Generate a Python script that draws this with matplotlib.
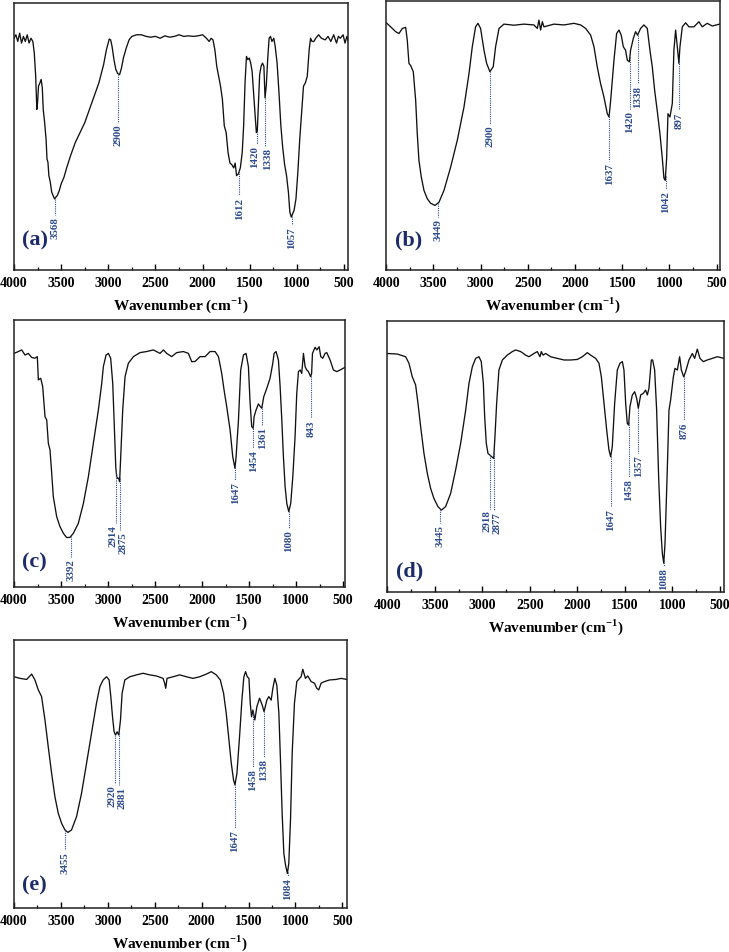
import numpy as np
import matplotlib
matplotlib.use("Agg")
import matplotlib.pyplot as plt
from matplotlib.ticker import MultipleLocator

plt.rcParams['font.family'] = ['Liberation Serif', 'DejaVu Serif']
plt.rcParams['mathtext.fontset'] = 'custom'
plt.rcParams['mathtext.rm'] = 'Liberation Serif'
plt.rcParams['mathtext.bf'] = 'Liberation Serif:bold'

# ---------------- data (relative transmittance, % of panel height) ----------------
wn_a = [4000, 3980, 3960, 3940, 3920, 3900, 3880, 3860, 3840, 3820, 3800, 3785, 3770, 3758, 3750,
        3740, 3725, 3712, 3700, 3690, 3675, 3660, 3650, 3640, 3630, 3615, 3600, 3585, 3570, 3555,
        3540, 3520, 3500, 3470, 3440, 3400, 3350, 3300, 3250, 3200, 3150, 3100, 3050, 3020, 2990,
        2975, 2960, 2940, 2920, 2900, 2880, 2860, 2840, 2810, 2780, 2750, 2700, 2650, 2600, 2550,
        2500, 2450, 2400, 2350, 2300, 2250, 2200, 2150, 2100, 2050, 2000, 1960, 1930, 1910, 1890,
        1870, 1850, 1830, 1810, 1790, 1770, 1750, 1730, 1710, 1690, 1670, 1655, 1640, 1620, 1600,
        1580, 1565, 1550, 1535, 1520, 1505, 1490, 1475, 1460, 1445, 1430, 1420, 1410, 1395, 1380,
        1365, 1350, 1338, 1325, 1310, 1295, 1280, 1265, 1245, 1230, 1210, 1190, 1170, 1150, 1130,
        1110, 1090, 1075, 1060, 1045, 1030, 1010, 990, 970, 950, 930, 910, 890, 870, 855,
        840, 820, 800, 770, 740, 700, 670, 640, 610, 580, 560, 540, 510, 490, 470, 455]
tr_a = [86.7, 88.0, 85.5, 88.6, 84.9, 87.4, 85.5, 88.0, 84.9, 86.7, 85.5, 81.2, 72.5, 60.1, 62.6,
        68.8, 70.0, 71.3, 68.2, 60.1, 55.1, 48.9, 41.5, 40.3, 35.3, 32.8, 29.1, 27.9, 26.6, 27.3,
        27.9, 29.7, 32.2, 34.7, 38.4, 42.8, 47.7, 51.4, 55.1, 60.1, 65.1, 70.0, 76.8, 82.4, 86.4,
        86.1, 83.6, 78.7, 75.0, 73.5, 73.1, 75.6, 79.3, 83.0, 86.1, 87.4, 88.0, 88.0, 87.4, 87.1,
        87.4, 86.7, 87.6, 87.1, 87.4, 88.0, 87.4, 87.6, 87.4, 87.6, 88.0, 86.7, 85.5, 86.7, 86.1,
        82.4, 76.2, 72.5, 68.8, 63.8, 53.9, 51.4, 43.9, 40.0, 39.4, 38.2, 40.0, 35.3, 36.0, 38.2,
        43.9, 53.9, 70.0, 79.9, 78.7, 79.3, 77.4, 74.3, 66.3, 58.9, 51.4, 52.0, 60.1, 73.1, 76.2,
        77.4, 76.2, 64.4, 68.8, 78.7, 86.7, 87.4, 85.5, 86.7, 83.6, 77.4, 66.3, 53.9, 45.6, 39.4,
        35.3, 29.1, 21.7, 19.8, 21.1, 22.3, 26.6, 36.6, 48.9, 58.9, 68.8, 70.0, 72.5, 82.4, 86.7,
        85.5, 85.5, 86.7, 88.0, 86.7, 86.1, 87.4, 85.5, 88.0, 84.9, 87.4, 86.7, 88.0, 84.9, 87.4, 85.5]
peaks_a = [3568, 2900, 1612, 1420, 1338, 1057]

wn_b = [4000, 3954, 3901, 3866, 3830, 3795, 3778, 3760, 3742, 3714, 3689, 3672, 3654, 3629, 3601,
        3566, 3530, 3484, 3442, 3389, 3318, 3248, 3177, 3124, 3089, 3054, 3029, 3001, 2965, 2937,
        2902, 2867, 2842, 2806, 2754, 2648, 2542, 2436, 2400, 2383, 2365, 2347, 2330, 2224, 2118,
        2012, 1941, 1888, 1835, 1800, 1765, 1730, 1694, 1659, 1640, 1623, 1588, 1560, 1535, 1511,
        1489, 1465, 1447, 1425, 1412, 1383, 1359, 1338, 1306, 1271, 1235, 1207, 1182, 1157, 1129,
        1101, 1076, 1059, 1045, 1030, 1016, 995, 970, 953, 935, 917, 900, 889, 864, 829,
        794, 741, 688, 653, 600, 547, 470]
tr_b = [91.9, 90.4, 88.6, 87.9, 89.8, 90.2, 85.5, 76.8, 76.0, 73.7, 63.1, 50.7, 40.7, 34.5, 29.6,
        26.5, 24.8, 24.0, 25.2, 29.6, 38.3, 48.2, 60.6, 73.0, 83.0, 90.4, 91.7, 89.8, 81.7, 76.8,
        73.7, 75.6, 83.0, 89.8, 91.4, 91.0, 91.4, 91.1, 89.8, 92.9, 89.2, 92.3, 90.4, 91.4, 91.1,
        91.7, 91.1, 89.8, 87.3, 83.0, 75.5, 69.3, 64.3, 58.1, 56.9, 63.1, 78.0, 87.9, 89.2, 87.3,
        83.0, 81.7, 78.0, 77.4, 81.7, 86.1, 88.6, 87.3, 89.8, 91.1, 89.8, 81.7, 75.5, 66.8, 59.0,
        50.7, 41.6, 34.2, 33.3, 41.6, 58.1, 56.9, 61.9, 81.7, 89.2, 83.0, 76.8, 83.0, 90.4, 91.9,
        90.4, 90.4, 92.3, 90.4, 91.7, 90.7, 91.4]
peaks_b = [3449, 2900, 1637, 1420, 1338, 1042, 897]

wn_c = [4000, 3954, 3918, 3883, 3848, 3812, 3777, 3752, 3741, 3716, 3695, 3670, 3652, 3635, 3617,
        3599, 3582, 3546, 3511, 3475, 3440, 3404, 3369, 3316, 3262, 3209, 3156, 3103, 3067, 3050,
        3021, 2996, 2972, 2950, 2933, 2918, 2908, 2897, 2887, 2877, 2865, 2844, 2819, 2784, 2730,
        2660, 2589, 2518, 2447, 2411, 2376, 2323, 2270, 2199, 2145, 2110, 2074, 2021, 1968, 1915,
        1862, 1826, 1791, 1766, 1738, 1702, 1674, 1650, 1638, 1613, 1589, 1560, 1532, 1507, 1489,
        1472, 1456, 1447, 1426, 1401, 1380, 1365, 1344, 1312, 1277, 1248, 1234, 1213, 1188, 1170,
        1152, 1135, 1117, 1099, 1078, 1057, 1035, 1011, 993, 975, 957, 940, 922, 904, 887,
        869, 846, 835, 826, 798, 780, 755, 738, 716, 692, 674, 638, 603, 567, 532, 480]
tr_c = [87.5, 88.2, 88.8, 86.9, 87.5, 86.0, 85.7, 86.3, 77.6, 78.2, 75.1, 63.8, 62.6, 53.9, 51.4,
        42.6, 33.9, 26.4, 22.7, 20.2, 18.6, 18.7, 20.2, 23.9, 31.4, 41.4, 53.9, 66.3, 76.3, 82.5,
        86.9, 87.5, 85.7, 76.3, 60.1, 45.1, 41.4, 40.8, 40.8, 39.5, 48.9, 66.3, 78.8, 83.8, 86.3,
        87.8, 88.2, 88.8, 87.5, 88.8, 87.5, 86.3, 87.8, 88.2, 87.5, 84.4, 84.5, 86.3, 86.3, 88.2,
        88.2, 86.3, 80.0, 73.8, 67.6, 58.9, 48.9, 44.5, 48.9, 62.6, 81.3, 86.9, 87.5, 82.5, 68.8,
        60.1, 59.5, 63.8, 66.3, 68.6, 67.6, 67.0, 71.3, 74.4, 78.2, 83.8, 87.5, 88.2, 85.0, 75.1,
        62.6, 48.9, 37.7, 31.4, 28.3, 31.4, 41.4, 56.4, 72.6, 80.7, 81.3, 80.0, 87.5, 82.5, 81.3,
        80.7, 78.8, 80.0, 87.5, 89.8, 88.8, 90.0, 86.3, 85.7, 87.5, 87.8, 85.0, 81.3, 80.7, 81.3, 82.3]
peaks_c = [3392, 2914, 2875, 1647, 1454, 1361, 1080, 843]

wn_d = [4000, 3895, 3807, 3772, 3737, 3702, 3677, 3649, 3614, 3579, 3544, 3509, 3467, 3430, 3386,
        3333, 3281, 3228, 3175, 3140, 3105, 3070, 3035, 3011, 2989, 2975, 2958, 2940, 2919, 2902,
        2880, 2867, 2849, 2825, 2789, 2737, 2684, 2649, 2596, 2544, 2509, 2456, 2421, 2393, 2379,
        2361, 2333, 2281, 2211, 2140, 2070, 2000, 1947, 1895, 1860, 1807, 1772, 1747, 1719, 1691,
        1667, 1649, 1632, 1607, 1579, 1551, 1526, 1509, 1491, 1474, 1460, 1446, 1421, 1396, 1375,
        1358, 1333, 1305, 1281, 1263, 1246, 1221, 1207, 1186, 1165, 1144, 1123, 1105, 1090, 1077,
        1053, 1035, 1018, 989, 972, 947, 923, 905, 880, 860, 825, 789, 765, 737, 709,
        674, 632, 579, 526, 456]
tr_d = [87.9, 87.7, 86.7, 84.3, 79.3, 76.3, 69.5, 60.9, 51.0, 43.7, 38.1, 34.4, 31.4, 30.1, 31.4,
        36.3, 44.9, 54.7, 67.0, 76.9, 83.0, 86.1, 86.7, 84.9, 76.9, 64.6, 54.7, 51.0, 50.4, 49.8,
        49.2, 57.2, 69.5, 81.8, 85.5, 87.3, 88.6, 89.2, 88.6, 87.3, 86.7, 87.9, 88.6, 86.7, 88.6,
        87.3, 87.9, 86.7, 86.1, 85.5, 85.5, 85.7, 86.7, 88.2, 87.3, 86.1, 84.3, 79.3, 69.5, 59.7,
        52.3, 49.8, 53.5, 69.5, 81.8, 84.3, 84.9, 81.8, 69.5, 62.1, 61.5, 68.3, 72.6, 73.8, 71.3,
        67.7, 72.6, 73.2, 74.4, 72.6, 75.0, 85.5, 85.5, 81.8, 67.0, 42.4, 24.0, 14.1, 10.5, 17.8,
        44.9, 67.0, 70.7, 79.3, 82.4, 81.8, 86.7, 81.8, 79.3, 81.2, 85.5, 87.9, 86.1, 89.5, 86.1,
        84.9, 85.5, 86.1, 86.7, 86.1]
peaks_d = [3445, 2918, 2877, 1647, 1458, 1357, 1088, 876]

wn_e = [4000, 3936, 3865, 3812, 3777, 3741, 3706, 3670, 3635, 3599, 3564, 3528, 3493, 3457, 3425,
        3387, 3333, 3280, 3227, 3174, 3121, 3085, 3050, 3014, 2986, 2968, 2950, 2933, 2918, 2901,
        2883, 2865, 2848, 2819, 2766, 2695, 2624, 2553, 2482, 2411, 2394, 2383, 2369, 2305, 2234,
        2163, 2092, 2021, 1950, 1897, 1844, 1801, 1766, 1738, 1709, 1684, 1660, 1645, 1624, 1596,
        1571, 1550, 1532, 1514, 1496, 1482, 1468, 1454, 1433, 1411, 1383, 1355, 1335, 1305, 1284,
        1259, 1241, 1220, 1199, 1177, 1160, 1142, 1124, 1106, 1086, 1071, 1053, 1035, 1011, 986,
        957, 940, 922, 894, 869, 833, 798, 773, 752, 727, 691, 638, 567, 514, 454]
tr_e = [86.3, 85.7, 85.3, 87.3, 85.1, 81.4, 78.9, 70.2, 60.2, 50.3, 41.6, 35.4, 31.7, 29.2, 28.3,
        29.2, 34.2, 42.9, 54.0, 65.2, 76.4, 82.6, 85.1, 86.3, 85.1, 78.9, 71.4, 65.8, 64.6, 65.8,
        64.6, 70.2, 80.1, 85.1, 86.3, 87.0, 87.6, 87.0, 86.6, 85.7, 83.9, 82.0, 85.7, 86.3, 87.0,
        86.3, 85.7, 86.3, 87.3, 88.2, 87.0, 85.1, 80.1, 72.7, 62.7, 54.0, 47.8, 46.0, 50.3, 64.0,
        77.6, 86.3, 88.2, 86.3, 85.7, 76.4, 71.4, 73.9, 70.2, 75.2, 78.3, 75.8, 73.3, 77.6, 78.9,
        77.6, 82.0, 85.7, 83.2, 72.7, 55.3, 35.4, 20.5, 16.1, 13.0, 16.8, 32.9, 57.8, 76.4, 84.5,
        85.7, 86.3, 89.1, 85.7, 86.6, 84.5, 83.9, 82.0, 81.4, 83.9, 84.5, 85.1, 85.3, 85.7, 85.3]
peaks_e = [3455, 2920, 2881, 1647, 1458, 1338, 1084]

panel_names = ['(a)', '(b)', '(c)', '(d)', '(e)']

# ---------------- layout (not data) ----------------
W, H = 729, 952
# left, right, top, bottom in pixels
boxes = [(14, 348.3, 2.7, 270), (386.3, 719.5, 1.0, 270),
         (14, 345, 320, 587.3), (387.3, 724, 320.7, 591.7),
         (14, 346.7, 640, 908.3)]
xr = [455, 470, 480, 456, 454]
# dotted-line end levels and text x-offsets (points) for each annotation
ends = [[20.4, 55.1, 27.9, 47.1, 46.5, 16.7],
        [19.6, 54.4, 40.4, 60.0, 69.3, 30.2, 59.4],
        [11.5, 23.9, 21.4, 40.1, 52.0, 60.7, 22.1, 63.3],
        [25.2, 30.7, 30.1, 31.4, 42.4, 51.0, 9.6, 63.3],
        [21.7, 46.6, 46.0, 29.8, 52.8, 56.5, 12.0]]
dxs = [[0, 0, 0, -1.6, 1.6, 0], [0] * 7,
       [0, -2.2, 2.4, 0, 0, 0, 0, 0],
       [0, -2.4, 2.4, 0, 0, 0, 0, 0],
       [0, -2.4, 2.4, 0, 0, 0, 0]]
lab_y = [0.074, 0.074, 0.056, 0.037, 0.048]

navy_lab = '#1c2c6a'
navy_txt = '#2c4a8c'

wns = [wn_a, wn_b, wn_c, wn_d, wn_e]
trs = [tr_a, tr_b, tr_c, tr_d, tr_e]
pks = [peaks_a, peaks_b, peaks_c, peaks_d, peaks_e]

fig = plt.figure(figsize=(W / 100, H / 100), dpi=100)
for i in range(5):
    l, r, t, b = boxes[i]
    ax = fig.add_axes([l / W, 1 - b / H, (r - l) / W, (b - t) / H])
    x = np.array(wns[i], dtype=float)
    y = np.array(trs[i], dtype=float)
    ax.plot(x, y, color='#111111', lw=0.95)
    ax.set_xlim(4000, xr[i])
    ax.set_ylim(0, 100)
    ax.xaxis.set_major_locator(MultipleLocator(500))
    ax.xaxis.set_minor_locator(MultipleLocator(250))
    ax.tick_params(axis='x', which='both', direction='in', top=False, bottom=True,
                   labelsize=10, pad=5)
    ax.tick_params(axis='x', which='major', length=4.5, width=1.0)
    ax.tick_params(axis='x', which='minor', length=2.5, width=0.9)
    ax.set_yticks([])
    for lbl in ax.get_xticklabels():
        lbl.set_fontweight('bold')
    for s in ax.spines.values():
        s.set_linewidth(1.1)
        s.set_color('#222222')
    ax.set_xlabel(r'Wavenumber (cm$^{\mathbf{-1}}$)', fontsize=11, fontweight='bold',
                  labelpad=4)
    # peak annotations
    order = np.argsort(x)
    for p, e, dx in zip(pks[i], ends[i], dxs[i]):
        yc = np.interp(p, x[order], y[order])
        ax.plot([p, p], [yc, e], color=navy_txt, lw=0.8, ls=(0, (1, 1)))
        ax.annotate(str(p), xy=(p, e), xytext=(dx, -1.5), textcoords='offset points',
                    rotation=90, ha='center', va='top', fontsize=7.8,
                    fontweight='bold', color=navy_txt)
    ax.text(0.025, lab_y[i], panel_names[i], transform=ax.transAxes, ha='left',
            va='bottom', fontsize=16, fontweight='bold', color=navy_lab)

fig.savefig('out.png', dpi=100)
